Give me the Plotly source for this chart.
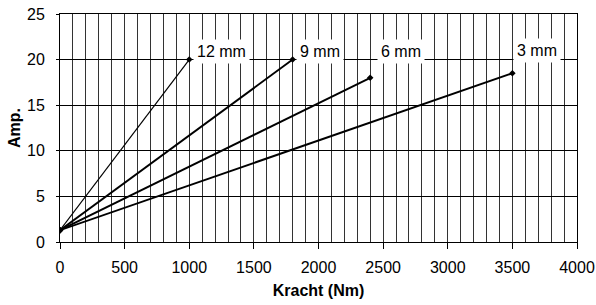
import plotly.graph_objects as go

# Data
series_names = ["12 mm", "9 mm", "6 mm", "3 mm"]
start_x = [0, 0, 0, 0]
start_y = [1.3, 1.3, 1.3, 1.3]
end_x = [1000, 1800, 2400, 3500]
end_y = [20, 20, 18, 18.5]
x_tick_vals = [0, 500, 1000, 1500, 2000, 2500, 3000, 3500, 4000]
y_tick_vals = [0, 5, 10, 15, 20, 25]

# Styling (not data)
line_widths = [1.2, 1.9, 1.9, 1.9]
label_y = [20.9, 20.9, 20.9, 21.0]
label_xshift = [4, 3, 7, 1]

FONT = "Liberation Sans, Arial, sans-serif"
FS = 16

fig = go.Figure()
for i, name in enumerate(series_names):
    fig.add_trace(go.Scatter(
        x=[start_x[i], end_x[i]], y=[start_y[i], end_y[i]],
        mode="lines+markers",
        line=dict(color="black", width=line_widths[i]),
        marker=dict(symbol="diamond", size=5, color="black"),
        name=name, showlegend=False, hoverinfo="skip"))
    fig.add_annotation(
        x=end_x[i], y=label_y[i], text=name, showarrow=False,
        xanchor="left", yanchor="middle", xshift=label_xshift[i],
        bgcolor="white", borderpad=3,
        font=dict(family=FONT, size=FS, color="black"))

fig.update_layout(
    width=596, height=305,
    margin=dict(l=60, r=19, t=14, b=63, autoexpand=False),
    paper_bgcolor="white", plot_bgcolor="white",
    font=dict(family=FONT, size=FS, color="black"),
)
fig.update_xaxes(
    range=[0, 4000], tickvals=x_tick_vals,
    tickfont=dict(family=FONT, size=FS, color="black"),
    ticks="outside", ticklen=6, tickcolor="black",
    showgrid=False,
    minor=dict(dtick=100, showgrid=True, gridcolor="#333333", gridwidth=1, ticks=""),
    showline=True, linecolor="black", linewidth=1, mirror=True,
    zeroline=False, ticklabelstandoff=5, automargin=False,
    title=dict(text="<b>Kracht (Nm)</b>", font=dict(family=FONT, size=FS), standoff=9),
)
fig.update_yaxes(
    range=[0, 25], tickvals=y_tick_vals,
    tickfont=dict(family=FONT, size=FS, color="black"),
    ticks="outside", ticklen=3, tickcolor="black",
    showgrid=True, gridcolor="black", gridwidth=1,
    showline=True, linecolor="black", linewidth=1, mirror=True,
    zeroline=False, ticklabelstandoff=8, automargin=False,
    title=dict(text="<b>Amp.</b>", font=dict(family=FONT, size=FS), standoff=2),
)

fig.write_html("out.html", config={"responsive": False, "displayModeBar": False},
               post_script="document.body.style.margin='0';")
